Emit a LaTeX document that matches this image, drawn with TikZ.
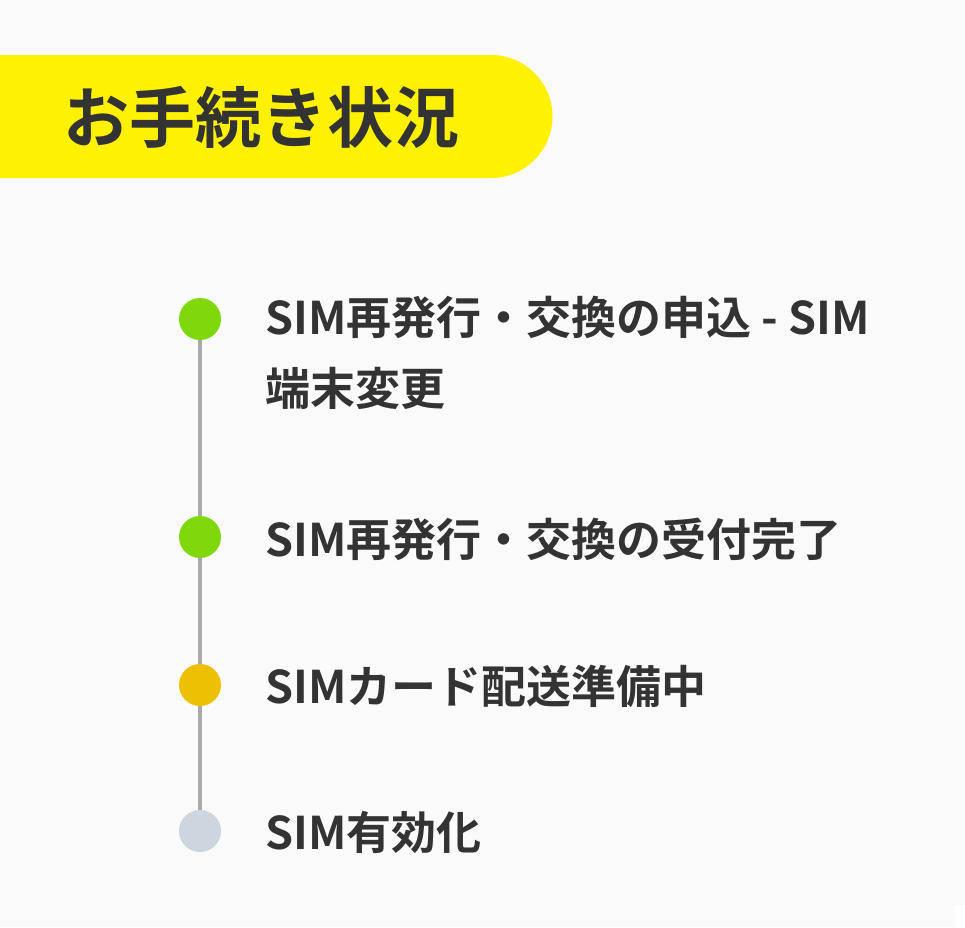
\documentclass[tikz,border=0pt]{standalone}
\usepackage{fontspec}
\newfontfamily\cjk{Noto Sans CJK JP}[BoldFont={Noto Sans CJK JP Bold}]
\definecolor{bg}{HTML}{FAFAFA}
\definecolor{yel}{HTML}{FFF200}
\definecolor{txt}{HTML}{333333}
\definecolor{grn}{HTML}{7ED80A}
\definecolor{amb}{HTML}{EEC100}
\definecolor{gry}{HTML}{CDD5DE}
\definecolor{ln}{HTML}{AAAAAA}
\begin{document}
\begin{tikzpicture}[x=1pt,y=-1pt,
  item/.style={anchor=west,text=txt,font=\cjk\bfseries\fontsize{45}{71}\selectfont,align=left,inner sep=0pt},
  dot/.style={circle,minimum size=42pt,inner sep=0pt}]
\fill[bg] (0,0) rectangle (965,927);
\useasboundingbox (0,0) rectangle (965,927);
\fill[white] (955,905) rectangle (965,927);
\fill[yel] (0,55) -- (491,55) arc[start angle=-90,end angle=90,radius=61.5] -- (0,178) -- cycle;
\node[anchor=west,text=txt,font=\cjk\bfseries\fontsize{66}{70}\selectfont,inner sep=0pt] (title) at (63,117) {お手続き状況};
\draw[ln,line width=4pt] (200,318) -- (200,830);
\node[dot,fill=grn] (d1) at (200,319) {};
\node[dot,fill=grn] (d2) at (200,537) {};
\node[dot,fill=amb] (d3) at (200,685) {};
\node[dot,fill=gry] (d4) at (200,831) {};
\node[item,anchor=north west] (t1) at (265,296) {SIM再発行・交換の申込 - SIM\\端末変更};
\node[item] (t2) at (265,539) {SIM再発行・交換の受付完了};
\node[item] (t3) at (265,686) {SIMカード配送準備中};
\node[item] (t4) at (265,832) {SIM有効化};
\end{tikzpicture}
\end{document}
